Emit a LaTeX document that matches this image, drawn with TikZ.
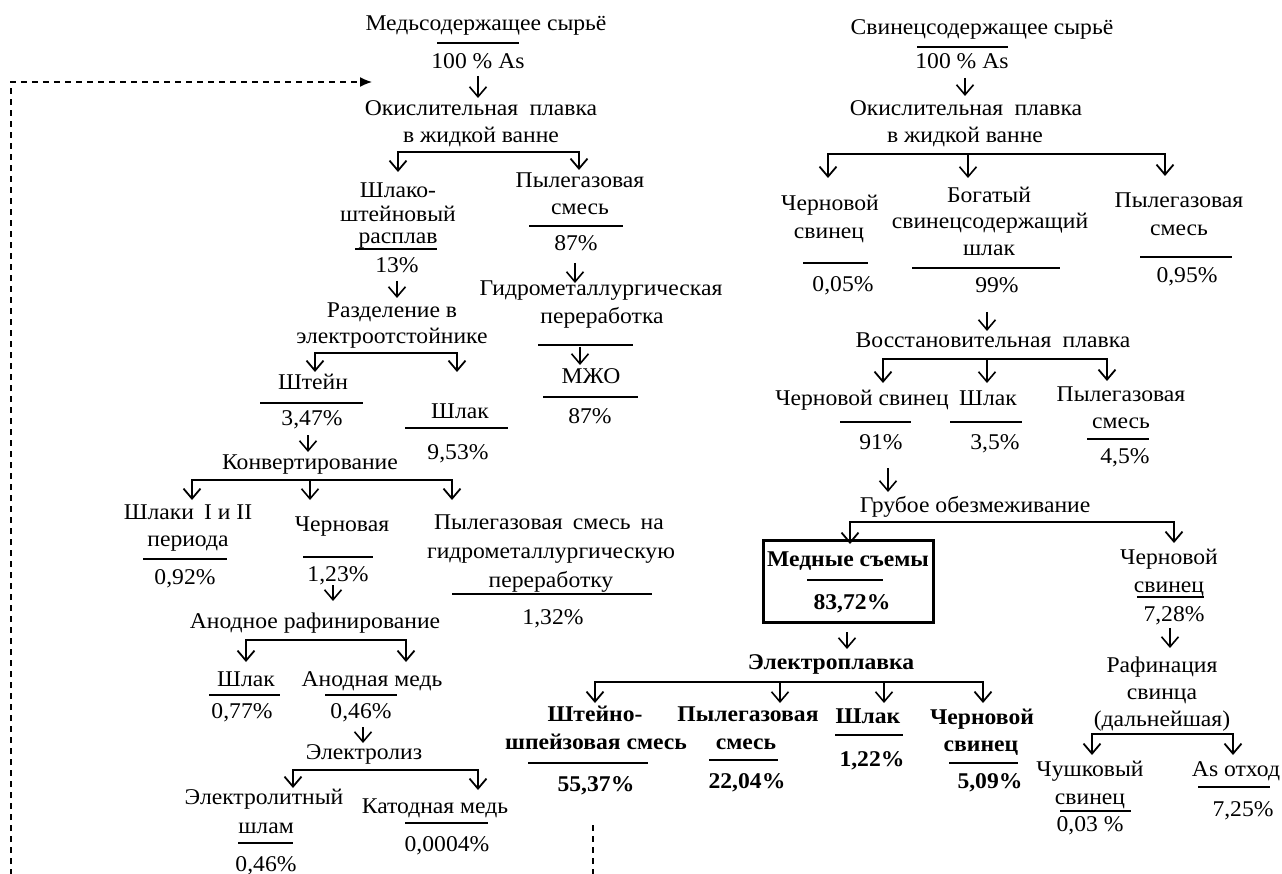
\documentclass[tikz,border=0pt]{standalone}
\usepackage{fontspec}
\setmainfont{Liberation Serif}
\newfontfamily\tnr{Liberation Serif}[FakeStretch=1.05]
\newfontfamily\tnrbf{Liberation Serif Bold}[FakeStretch=1.05]
\usetikzlibrary{arrows.meta}
\newcommand{\fsz}{\tnr\fontsize{22.5}{26}\selectfont}
\newcommand{\fszb}{\tnrbf\fontsize{22.5}{26}\selectfont}
\tikzset{
  t/.style={anchor=base, inner sep=0pt, font=\fsz},
  tb/.style={anchor=base, inner sep=0pt, font=\fszb},
  uline/.style={line width=1.8pt},
  arr/.style={line width=1.6pt, -{Straight Barb[length=10pt,width=17pt]}},
  brr/.style={line width=1.8pt, {Straight Barb[length=10pt,width=17pt]}-{Straight Barb[length=10pt,width=17pt]}},
  dsh/.style={line width=1.4pt, dash pattern=on 6pt off 5pt},
  hbox/.style={draw, line width=3pt, inner sep=0pt}
}
\begin{document}
\begin{tikzpicture}[x=1pt,y=-1pt]
\useasboundingbox (0,0) rectangle (1282,874);
\fill[white] (0,0) rectangle (1282,874);
\clip (0,0) rectangle (1282,874);
% ================= LEFT TREE =================
\node[t] (cu0) at (486,31) {Медьсодержащее сырьё};
\draw[uline] (437,43) -- (519,43);
\node[t] (cu0p) at (478,69) {100 \% As};
\coordinate (a1s) at (478,76); \coordinate (a1e) at (478,98);
\draw[arr] (a1s) -- (a1e);
\node[t] (cu1a) at (481,116) {Окислительная\hspace{0.5em}плавка};
\node[t] (cu1b) at (481,143) {в жидкой ванне};
\coordinate (b1l) at (398,172); \coordinate (b1r) at (579,170);
\draw[brr] (b1l) -- (398,152) -- (579,152) -- (b1r);
\node[t] (sh1) at (398,198) {Шлако-};
\node[t] (sh2) at (398,222) {штейновый};
\node[t] (sh3) at (398,244) {расплав};
\draw[uline] (355,249) -- (437,249);
\node[t] (sh4) at (397,273) {13\%};
\coordinate (a2s) at (397,281); \coordinate (a2e) at (397,298);
\draw[arr] (a2s) -- (a2e);
\node[t] (pg1) at (580,188) {Пылегазовая};
\node[t] (pg2) at (580,215) {смесь};
\draw[uline] (529,226) -- (623,226);
\node[t] (pg3) at (576,251) {87\%};
\coordinate (a3s) at (575,263); \coordinate (a3e) at (575,283);
\draw[arr] (a3s) -- (a3e);
\node[t] (gm1) at (601,296) {Гидрометаллургическая};
\node[t] (gm2) at (602,324) {переработка};
\draw[uline] (538,345) -- (633,345);
\coordinate (a4s) at (580,347); \coordinate (a4e) at (580,365);
\draw[arr] (a4s) -- (a4e);
\node[t] (mzo) at (591,384) {МЖО};
\draw[uline] (543,397) -- (638,397);
\node[t] (mzop) at (590,423) {87\%};
\node[t] (rz1) at (392,318) {Разделение в};
\node[t] (rz2) at (392,344) {электроотстойнике};
\coordinate (b2l) at (315,372); \coordinate (b2r) at (457,372);
\draw[brr] (b2l) -- (315,353) -- (457,353) -- (b2r);
\node[t] (st1) at (313,389) {Штейн};
\draw[uline] (260,403) -- (363,403);
\node[t] (st2) at (312,425) {3,47\%};
\coordinate (a5s) at (308,435); \coordinate (a5e) at (308,452);
\draw[arr] (a5s) -- (a5e);
\node[t] (sl1) at (460,418) {Шлак};
\draw[uline] (405,428) -- (508,428);
\node[t] (sl2) at (458,459) {9,53\%};
\node[t] (kv) at (310,469) {Конвертирование};
\coordinate (b3l) at (192,500); \coordinate (b3m) at (310,500); \coordinate (b3r) at (452,500);
\draw[brr] (b3l) -- (192,480) -- (452,480) -- (b3r);
\draw[arr] (310,480) -- (b3m);
\node[t] (sk1) at (188,519) {Шлаки\hspace{0.45em}I и II};
\node[t] (sk2) at (188,546) {периода};
\draw[uline] (143,559) -- (227,559);
\node[t] (sk3) at (185,584) {0,92\%};
\node[t] (cr1) at (342,531) {Черновая};
\draw[uline] (303,557) -- (373,557);
\node[t] (cr2) at (338,581) {1,23\%};
\coordinate (a6s) at (333,585); \coordinate (a6e) at (333,601);
\draw[arr] (a6s) -- (a6e);
\node[t] (pn1) at (549,529) {Пылегазовая\hspace{0.45em}смесь\hspace{0.45em}на};
\node[t] (pn2) at (551,558) {гидрометаллургическую};
\node[t] (pn3) at (551,587) {переработку};
\draw[uline] (452,594) -- (652,594);
\node[t] (pn4) at (553,624) {1,32\%};
\node[t] (an) at (315,628) {Анодное рафинирование};
\coordinate (b4l) at (246,662); \coordinate (b4r) at (406,662);
\draw[brr] (b4l) -- (246,640) -- (406,640) -- (b4r);
\node[t] (as1) at (246,686) {Шлак};
\draw[uline] (209,695) -- (280,695);
\node[t] (as2) at (242,718) {0,77\%};
\node[t] (am1) at (372,686) {Анодная медь};
\draw[uline] (325,695) -- (397,695);
\node[t] (am2) at (361,718) {0,46\%};
\coordinate (a7s) at (363,727); \coordinate (a7e) at (363,743);
\draw[arr] (a7s) -- (a7e);
\node[t] (el) at (364,759) {Электролиз};
\coordinate (b5l) at (293,788); \coordinate (b5r) at (478,790);
\draw[brr] (b5l) -- (293,770) -- (478,770) -- (b5r);
\node[t] (es1) at (264,804) {Электролитный};
\node[t] (es2) at (266,833) {шлам};
\draw[uline] (238,843) -- (293,843);
\node[t] (es3) at (266,871) {0,46\%};
\node[t] (km1) at (435,813) {Катодная медь};
\draw[uline] (405,823) -- (488,823);
\node[t] (km2) at (447,851) {0,0004\%};
% dashed return loop
\coordinate (d0) at (593,825); \coordinate (d1) at (593,900);
\coordinate (d2) at (11,900); \coordinate (d3) at (11,82); \coordinate (d4) at (372,82);
\draw[dsh, -{Latex[length=12pt,width=10pt]}] (d0) -- (d1) -- (d2) -- (d3) -- (d4);
% ================= RIGHT TREE =================
\node[t] (pb0) at (982,35) {Свинецсодержащее сырьё};
\draw[uline] (917,47) -- (1008,47);
\node[t] (pb0p) at (962,69) {100 \% As};
\coordinate (a8s) at (965,78); \coordinate (a8e) at (965,96);
\draw[arr] (a8s) -- (a8e);
\node[t] (po1) at (966,116) {Окислительная\hspace{0.5em}плавка};
\node[t] (po2) at (965,143) {в жидкой ванне};
\coordinate (b6l) at (828,178); \coordinate (b6m) at (968,178); \coordinate (b6r) at (1165,176);
\draw[brr] (b6l) -- (828,154) -- (1165,154) -- (b6r);
\draw[arr] (968,154) -- (b6m);
\node[t] (cs1) at (830,211) {Черновой};
\node[t] (cs2) at (829,239) {свинец};
\draw[uline] (803,263) -- (868,263);
\node[t] (cs3) at (843,292) {0,05\%};
\node[t] (bg1) at (989,203) {Богатый};
\node[t] (bg2) at (990,229) {свинецсодержащий};
\node[t] (bg3) at (989,256) {шлак};
\draw[uline] (912,268) -- (1060,268);
\node[t] (bg4) at (997,293) {99\%};
\node[t] (pr1) at (1179,208) {Пылегазовая};
\node[t] (pr2) at (1179,236) {смесь};
\draw[uline] (1140,257) -- (1232,257);
\node[t] (pr3) at (1187,283) {0,95\%};
\coordinate (a9s) at (987,312); \coordinate (a9e) at (987,331);
\draw[arr] (a9s) -- (a9e);
\node[t] (vp) at (993,348) {Восстановительная\hspace{0.5em}плавка};
\coordinate (b7l) at (883,383); \coordinate (b7m) at (987,383); \coordinate (b7r) at (1107,381);
\draw[brr] (b7l) -- (883,359) -- (1107,359) -- (b7r);
\draw[arr] (987,359) -- (b7m);
\node[t] (vc1) at (862,406) {Черновой свинец};
\draw[uline] (840,422) -- (911,422);
\node[t] (vc2) at (881,449) {91\%};
\node[t] (vs1) at (988,406) {Шлак};
\draw[uline] (950,422) -- (1022,422);
\node[t] (vs2) at (995,449) {3,5\%};
\node[t] (vg1) at (1121,401) {Пылегазовая};
\node[t] (vg2) at (1121,428) {смесь};
\draw[uline] (1087,439) -- (1149,439);
\node[t] (vg3) at (1125,463) {4,5\%};
\coordinate (a10s) at (888,468); \coordinate (a10e) at (888,492);
\draw[arr] (a10s) -- (a10e);
\node[t] (go) at (975,512) {Грубое обезмеживание};
\coordinate (b8l) at (850,544); \coordinate (b8r) at (1174,543);
\node[hbox, minimum width=170pt, minimum height=82pt] (box) at (848,581) {};
\draw[brr] (b8l) -- (850,522) -- (1174,522) -- (b8r);
\node[tb] (ms1) at (848,566) {Медные съемы};
\draw[uline] (807,580) -- (883,580);
\node[tb] (ms2) at (852,609) {83,72\%};
\coordinate (a11s) at (847,632); \coordinate (a11e) at (847,649);
\draw[arr] (a11s) -- (a11e);
\node[tb] (ep) at (831,669) {Электроплавка};
\coordinate (b9a) at (595,703); \coordinate (b9b) at (780,703);
\coordinate (b9c) at (884,703); \coordinate (b9d) at (983,703);
\draw[brr] (b9a) -- (595,682) -- (983,682) -- (b9d);
\draw[arr] (780,682) -- (b9b);
\draw[arr] (884,682) -- (b9c);
\node[tb] (ss1) at (595,721) {Штейно-};
\node[tb] (ss2) at (596,749) {шпейзовая смесь};
\draw[uline] (528,763) -- (648,763);
\node[tb] (ss3) at (596,791) {55,37\%};
\node[tb] (eg1) at (748,721) {Пылегазовая};
\node[tb] (eg2) at (746,749) {смесь};
\draw[uline] (709,760) -- (778,760);
\node[tb] (eg3) at (747,788) {22,04\%};
\node[tb] (es1b) at (868,723) {Шлак};
\draw[uline] (835,735) -- (903,735);
\node[tb] (es2b) at (872,766) {1,22\%};
\node[tb] (ec1) at (982,724) {Черновой};
\node[tb] (ec2) at (981,751) {свинец};
\draw[uline] (949,763) -- (1018,763);
\node[tb] (ec3) at (990,788) {5,09\%};
\node[t] (rc1) at (1169,564) {Черновой};
\node[t] (rc2) at (1169,592) {свинец};
\draw[uline] (1137,597) -- (1204,597);
\node[t] (rc3) at (1174,621) {7,28\%};
\coordinate (a12s) at (1170,628); \coordinate (a12e) at (1170,648);
\draw[arr] (a12s) -- (a12e);
\node[t] (rf1) at (1162,672) {Рафинация};
\node[t] (rf2) at (1162,699) {свинца};
\node[t] (rf3) at (1162,726) {(дальнейшая)};
\coordinate (b10l) at (1092,755); \coordinate (b10r) at (1233,755);
\draw[brr] (b10l) -- (1092,734) -- (1233,734) -- (b10r);
\node[t] (ch1) at (1090,776) {Чушковый};
\node[t] (ch2) at (1090,804) {свинец};
\draw[uline] (1060,811) -- (1131,811);
\node[t] (ch3) at (1090,831) {0,03 \%};
\node[t] (ax1) at (1236,776) {As отход};
\draw[uline] (1198,787) -- (1270,787);
\node[t] (ax2) at (1243,816) {7,25\%};
\end{tikzpicture}
\end{document}
